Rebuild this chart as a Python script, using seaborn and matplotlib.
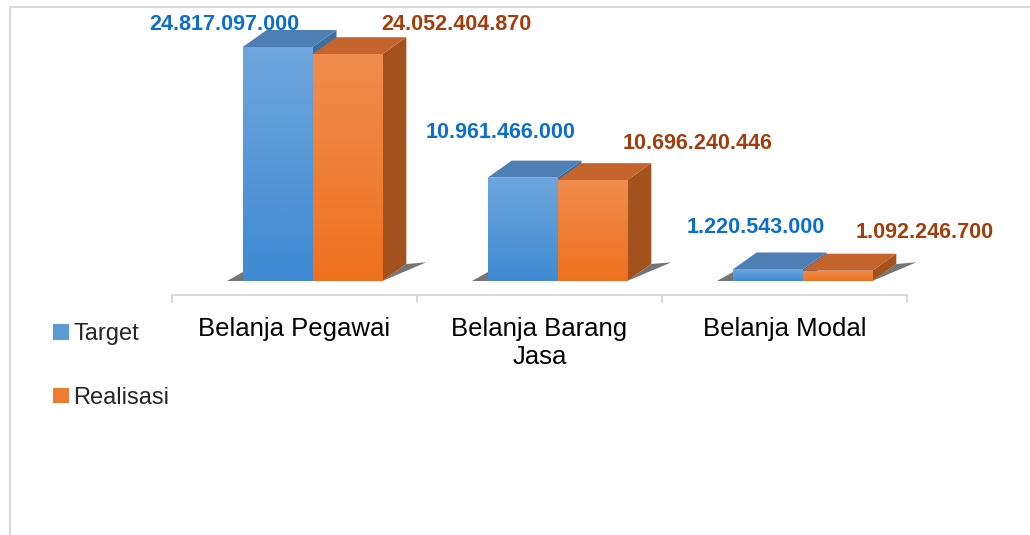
import numpy as np
import pandas as pd
import seaborn as sns
import matplotlib.pyplot as plt
from matplotlib.patches import Polygon, Patch
from matplotlib.lines import Line2D
from matplotlib.colors import LinearSegmentedColormap

# data
categories = ['Belanja Pegawai', 'Belanja Barang\nJasa', 'Belanja Modal']
target = [24817097000, 10961466000, 1220543000]
realisasi = [24052404870, 10696240446, 1092246700]
series = ['Target', 'Realisasi']

# label offsets (pixels) from the top centre of each front face
target_lbl_dx = [-53, -22, -12]
target_lbl_dy = [23, 45, 42]
real_lbl_dx = [109, 105, 87]
real_lbl_dy = [30, 37, 38]

blue = '#5b9bd5'
orange = '#ed7d31'
grad = {'Target': ['#3f8ad3', '#6ea6dd'], 'Realisasi': ['#ee711f', '#f08c4e']}
top_col = {'Target': '#4d7fb5', 'Realisasi': '#c4642c'}
side_col = {'Target': '#3f6e9e', 'Realisasi': '#a4521d'}
lbl_col = {'Target': '#0b6fcf', 'Realisasi': '#a33e0c'}

df = pd.DataFrame({
    'Kategori': categories * 2,
    'Seri': ['Target'] * 3 + ['Realisasi'] * 3,
    'Nilai': target + realisasi,
})

sns.set_style('white')
plt.rcParams['font.family'] = ['Liberation Sans', 'DejaVu Sans']

W, H = 1030, 535
fig = plt.figure(figsize=(W / 100, H / 100), dpi=100)
ax_left, ax_right, ax_base, ax_top = 172, 907, 281, 20
ax = fig.add_axes([ax_left / W, 1 - ax_base / H, (ax_right - ax_left) / W, (ax_base - ax_top) / H])

sns.barplot(data=df, x='Kategori', y='Nilai', hue='Seri', palette=[blue, orange],
            width=0.57, saturation=1, legend=False, ax=ax, linewidth=0)

ymax = max(target) * (ax_base - ax_top) / 234
ax.set_ylim(0, ymax)
ax.set_xlim(-0.5, 2.5)

# 3d depth in data units
px_x = 3.0 / (ax_right - ax_left)
px_y = ymax / (ax_base - ax_top)
dx = 24 * px_x
dy = 17 * px_y
shift = 18 * px_x

bars = list(ax.patches)
order = [(p, series[i // 3], i % 3) for i, p in enumerate(bars)]

z = 2
for p, s, k in sorted(order, key=lambda t: (t[2], series.index(t[1]))):
    p.set_x(p.get_x() + shift)
    x0 = p.get_x()
    w = p.get_width()
    x1 = x0 + w
    h = p.get_height()
    if s == 'Target':
        # floor shadow
        ax.add_patch(Polygon([(x0 - 16 * px_x, 0), (x0, 0), (x0, 9 * px_y)], closed=True,
                             fc='#2b2b2b', alpha=0.65, lw=0, zorder=1))
    else:
        ax.add_patch(Polygon([(x1, 0), (x1 + dx + 20 * px_x, dy * 1.1), (x1 + dx, dy)],
                             closed=True, fc='#2b2b2b', alpha=0.65, lw=0, zorder=1,
                             clip_on=False))
    side = Polygon([(x1, 0), (x1 + dx, dy), (x1 + dx, h + dy), (x1, h)], closed=True,
                   fc=side_col[s], lw=0, zorder=z)
    top = Polygon([(x0, h), (x1, h), (x1 + dx, h + dy), (x0 + dx, h + dy)], closed=True,
                  fc=top_col[s], lw=0, zorder=z + 1)
    ax.add_patch(side)
    ax.add_patch(top)
    p.set_zorder(z + 2)
    cmap = LinearSegmentedColormap.from_list('g', grad[s])
    im = ax.imshow(np.linspace(0, 1, 64).reshape(-1, 1), extent=[x0, x1, 0, h], origin='lower',
                   aspect='auto', cmap=cmap, zorder=z + 2.5, interpolation='bilinear')
    im.set_clip_path(p)
    z += 3

ax.set_ylim(0, ymax)
ax.set_xlim(-0.5, 2.5)

# data labels
for k in range(3):
    pt = bars[k]
    pr = bars[3 + k]
    for p, s, ddx, ddy in [(pt, 'Target', target_lbl_dx[k], target_lbl_dy[k]),
                           (pr, 'Realisasi', real_lbl_dx[k], real_lbl_dy[k])]:
        v = int(round(p.get_height()))
        txt = f'{v:,}'.replace(',', '.')
        ax.annotate(txt, xy=(p.get_x() + p.get_width() / 2, p.get_height()),
                    xytext=(ddx, ddy), textcoords='offset pixels', ha='center', va='center',
                    fontsize=15.5, fontweight='bold', color=lbl_col[s], annotation_clip=False,
                    zorder=30)

# axes styling
for sp in ['left', 'right', 'top']:
    ax.spines[sp].set_visible(False)
ax.spines['bottom'].set_position(('outward', 14 * 0.72))
ax.spines['bottom'].set_color('#d9d9d9')
ax.spines['bottom'].set_linewidth(1.5)
ax.set_yticks([])
ax.set_xlabel('')
ax.set_ylabel('')
ax.set_xticks(range(3))
ax.set_xticklabels(categories, fontsize=18.5, color='#000000', linespacing=1.2)
ax.set_xticks([-0.5, 0.5, 1.5, 2.5], minor=True)
ax.tick_params(axis='x', which='major', bottom=False, length=0, pad=16)
ax.tick_params(axis='x', which='minor', bottom=True, length=6, width=1.5,
               color='#d9d9d9', direction='out')

# legend
handles = [Patch(fc=blue, ec='none'), Patch(fc=orange, ec='none')]
fig.legend(handles, series, loc='upper left', bbox_to_anchor=(44 / W, 1 - 314 / H),
           frameon=False, fontsize=17, handlelength=0.65, handleheight=0.65,
           handletextpad=0.2, labelspacing=1.75, borderaxespad=0)

# outer chart frame
fig.add_artist(Line2D([10 / W, 1], [1 - 7 / H, 1 - 7 / H], color='#d9d9d9', lw=1.5))
fig.add_artist(Line2D([10 / W, 10 / W], [0, 1 - 7 / H], color='#d9d9d9', lw=1.5))

fig.savefig('out.png', dpi=100)
